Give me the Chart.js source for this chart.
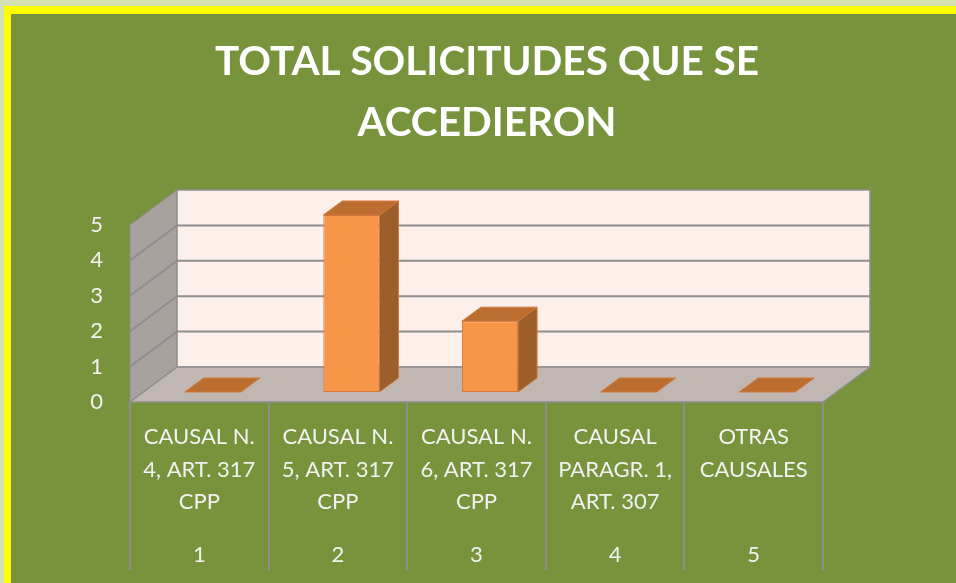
<!DOCTYPE html>
<html>
<head>
<meta charset="utf-8">
<script src="https://cdn.jsdelivr.net/npm/chart.js@4.4.1/dist/chart.umd.min.js"></script>
<style>
  html, body { margin: 0; padding: 0; width: 956px; height: 583px; overflow: hidden; background: #d3e2b0; }
  #frame { position: absolute; left: 4px; top: 6px; width: 980px; height: 620px; background: #ffff00; }
  #inner { position: absolute; left: 11px; top: 14px; width: 952px; height: 569px; background: #77933c; }
</style>
</head>
<body>
<div id="frame"></div>
<div id="inner"><canvas id="chart"></canvas></div>
<script>
// valores
const categorias = [
  ['CAUSAL N.', '4, ART. 317', 'CPP'],
  ['CAUSAL N.', '5, ART. 317', 'CPP'],
  ['CAUSAL N.', '6, ART. 317', 'CPP'],
  ['CAUSAL', 'PARAGR. 1,', 'ART. 307'],
  ['OTRAS', 'CAUSALES'],
];
const numeros = ['1', '2', '3', '4', '5'];
const valores = [0, 5, 2, 0, 0];
const titulo  = ['TOTAL SOLICITUDES QUE SE', 'ACCEDIERON'];

const C = {
  text:     '#ffffff',
  grid:     '#8e8e8e',
  backWall: '#fdefe9',
  sideWall: '#a9a19e',
  floor:    '#c0b6b2',
  front:    '#f79646',
  top:      '#bc6e31',
  side:     '#9c5e2a',
  edge:     '#d2793a',
};

// profundidad 3D (px)
const DX = 47, DY = -35;
const FDX = 13.5, FDY = -10;   // desplazamiento de la cara frontal de la barra
const BDX = 19, BDY = -14;     // profundidad de la barra

function poly(ctx, pts, fill, stroke, lw) {
  ctx.beginPath();
  ctx.moveTo(pts[0][0], pts[0][1]);
  for (let i = 1; i < pts.length; i++) ctx.lineTo(pts[i][0], pts[i][1]);
  ctx.closePath();
  if (fill) { ctx.fillStyle = fill; ctx.fill(); }
  if (stroke) { ctx.strokeStyle = stroke; ctx.lineWidth = lw || 1; ctx.stroke(); }
}

const walls3d = {
  id: 'walls3d',
  beforeDatasetsDraw(chart) {
    const { ctx, chartArea: a, scales: { y } } = chart;
    ctx.save();
    // pared izquierda
    poly(ctx, [[a.left, a.bottom], [a.left, a.top], [a.left + DX, a.top + DY], [a.left + DX, a.bottom + DY]],
      C.sideWall, C.grid, 1);
    // pared del fondo
    poly(ctx, [[a.left + DX, a.top + DY], [a.right + DX, a.top + DY], [a.right + DX, a.bottom + DY], [a.left + DX, a.bottom + DY]],
      C.backWall, C.grid, 1.5);
    // piso
    poly(ctx, [[a.left, a.bottom], [a.right, a.bottom], [a.right + DX, a.bottom + DY], [a.left + DX, a.bottom + DY]],
      C.floor, C.grid, 1.5);
    // líneas de cuadrícula
    ctx.strokeStyle = C.grid;
    ctx.lineWidth = 2;
    y.ticks.forEach(t => {
      if (t.value <= y.min || t.value >= y.max) return;
      const py = y.getPixelForValue(t.value);
      ctx.beginPath();
      ctx.moveTo(a.left, py);
      ctx.lineTo(a.left + DX, py + DY);
      ctx.lineTo(a.right + DX, py + DY);
      ctx.stroke();
    });
    ctx.restore();
  },
  beforeDatasetDraw(chart) {
    chart.ctx.save();
    chart.ctx.translate(FDX, FDY);
  },
  afterDatasetDraw(chart, args) {
    const ctx = chart.ctx;
    args.meta.data.forEach(bar => {
      const p = bar.getProps(['x', 'y', 'base', 'width'], true);
      const l = p.x - p.width / 2, r = p.x + p.width / 2;
      // cara lateral
      if (p.base - p.y > 0.5) {
        poly(ctx, [[r, p.y], [r + BDX, p.y + BDY], [r + BDX, p.base + BDY], [r, p.base]], C.side, C.edge, 1);
      }
      // cara superior
      poly(ctx, [[l, p.y], [r, p.y], [r + BDX, p.y + BDY], [l + BDX, p.y + BDY]], C.top, C.edge, 1);
    });
    ctx.restore();
  },
  afterDraw(chart) {
    const { ctx, chartArea: a, scales: { x, x2 } } = chart;
    ctx.save();
    ctx.strokeStyle = C.grid;
    ctx.lineWidth = 2;
    for (let i = 0; i <= categorias.length; i++) {
      const px = Math.round(x.getPixelForValue(i - 0.5));
      ctx.beginPath();
      ctx.moveTo(px, a.bottom);
      ctx.lineTo(px, x2.bottom);
      ctx.stroke();
    }
    ctx.restore();
  }
};

Chart.defaults.font.family = "Lato, 'Open Sans', sans-serif";
Chart.defaults.color = C.text;

new Chart(document.getElementById('chart'), {
  type: 'bar',
  data: {
    labels: categorias,
    datasets: [{
      data: valores,
      backgroundColor: C.front,
      borderColor: C.edge,
      borderWidth: 1,
      borderSkipped: false,
      categoryPercentage: 1,
      barPercentage: 0.405,
    }]
  },
  options: {
    responsive: true, maintainAspectRatio: false,
    animation: false,
    layout: { padding: { left: 0, right: 0, top: 0, bottom: 13 } },
    plugins: {
      legend: { display: false },
      tooltip: { enabled: false },
      title: {
        display: true,
        text: titulo,
        color: C.text,
        font: { size: 40.5, weight: 'bold', lineHeight: 1.5 },
        padding: { top: 18, bottom: 71.5 },
      }
    },
    scales: {
      y: {
        min: 0, max: 5,
        ticks: { stepSize: 1, padding: 27, color: '#f2f2f2', font: { size: 22 } },
        grid: { display: false, drawTicks: false },
        border: { display: false },
        afterFit: s => { s.width = 119; },
      },
      // eje vacío a la derecha, sólo reserva el espacio de la profundidad 3D
      yDer: {
        type: 'linear',
        position: 'right',
        ticks: { display: false },
        grid: { display: false, drawTicks: false },
        border: { display: false },
        afterFit: s => { s.width = 140; },
      },
      x: {
        offset: true,
        weight: 0,
        ticks: { padding: 19, color: '#f2f2f2', font: { size: 22, lineHeight: 1.48 }, maxRotation: 0, autoSkip: false },
        grid: { display: false, drawTicks: false },
        border: { display: false },
        afterFit: s => { s.height = 125; },
      },
      x2: {
        type: 'category',
        position: 'bottom',
        labels: numeros,
        offset: true,
        weight: 1,
        ticks: { padding: 12, color: '#f2f2f2', font: { size: 22, lineHeight: 1.48 } },
        grid: { display: false, drawTicks: false },
        border: { display: false },
        afterFit: s => { s.height = 43; },
      }
    }
  },
  plugins: [walls3d]
});
</script>
</body>
</html>
